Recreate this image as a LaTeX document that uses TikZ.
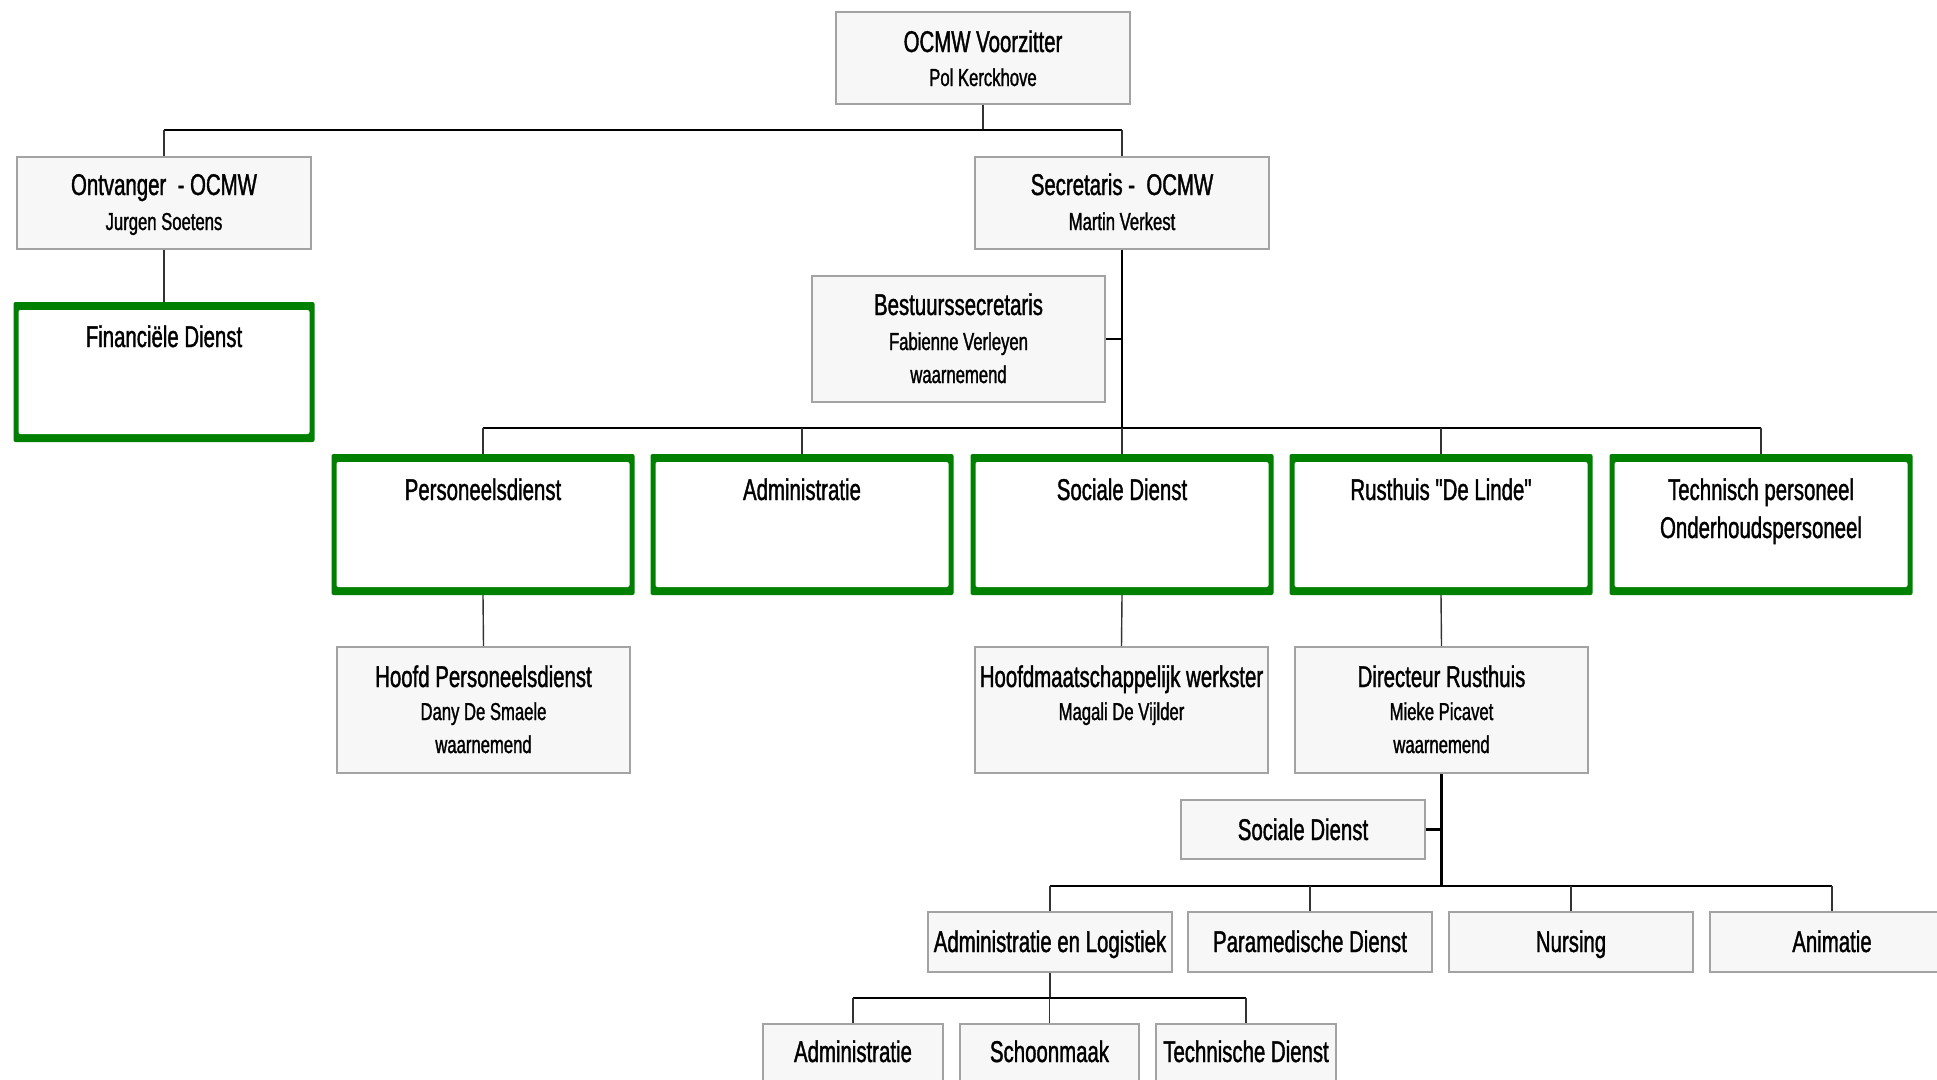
\documentclass[tikz,border=0pt]{standalone}
\usepackage{fontspec}
\newfontfamily\nf{Liberation Sans}[FakeStretch=0.68, FakeBold=1.2]
\definecolor{gboxc}{HTML}{008000}
\definecolor{boxline}{HTML}{A3A3A3}
\definecolor{boxfill}{HTML}{F7F7F7}
\definecolor{stubc}{HTML}{333333}
\tikzset{
  greybox/.style={draw=boxline, fill=boxfill, line width=2pt, rectangle, inner sep=0pt},
  greenbox/.style={fill=gboxc, draw=none, rectangle, inner sep=0pt, rounded corners=2pt,
    path picture={\fill[white] ([xshift=5pt,yshift=-8pt]path picture bounding box.north west) rectangle ([xshift=-5pt,yshift=8pt]path picture bounding box.south east);}},
  big/.style={anchor=base, inner sep=0pt, font=\nf\fontsize{30}{30}\selectfont},
  small/.style={anchor=base, inner sep=0pt, font=\nf\fontsize{24.5}{24.5}\selectfont},
  bus/.style={draw=black, line width=2.2pt},
  stub/.style={draw=stubc, line width=1.4pt},
}
\begin{document}
\begin{tikzpicture}[x=1pt,y=-1pt]
\clip (0,0) rectangle (1937,1079);
\fill[white] (0,0) rectangle (1937,1079);

% ---- boxes
\node[greybox, minimum width=294pt, minimum height=92pt] (vz) at (983,58) {};
\node[greybox, minimum width=294pt, minimum height=92pt] (ov) at (164,203) {};
\node[greybox, minimum width=294pt, minimum height=92pt] (sc) at (1122,203) {};
\node[greybox, minimum width=293pt, minimum height=126pt] (bs) at (958.5,339) {};
\node[greenbox, minimum width=301pt, minimum height=140pt] (fd) at (164,372) {};

\node[greenbox, minimum width=303pt, minimum height=141pt] (pd) at (483,524.5) {};
\node[greenbox, minimum width=303pt, minimum height=141pt] (ad) at (802,524.5) {};
\node[greenbox, minimum width=303pt, minimum height=141pt] (sd) at (1122,524.5) {};
\node[greenbox, minimum width=303pt, minimum height=141pt] (rh) at (1441,524.5) {};
\node[greenbox, minimum width=303pt, minimum height=141pt] (tp) at (1761,524.5) {};

\node[greybox, minimum width=293pt, minimum height=126pt] (hp) at (483.5,710) {};
\node[greybox, minimum width=293pt, minimum height=126pt] (hm) at (1121.5,710) {};
\node[greybox, minimum width=293pt, minimum height=126pt] (dr) at (1441.5,710) {};

\node[greybox, minimum width=244pt, minimum height=59pt] (sd2) at (1303,829.5) {};

\node[greybox, minimum width=244pt, minimum height=60pt] (al) at (1050,942) {};
\node[greybox, minimum width=244pt, minimum height=60pt] (pm) at (1310,942) {};
\node[greybox, minimum width=244pt, minimum height=60pt] (nu) at (1571,942) {};
\node[greybox, minimum width=244pt, minimum height=60pt] (an) at (1832,942) {};

\node[greybox, minimum width=180pt, minimum height=60pt] (ba) at (853,1054) {};
\node[greybox, minimum width=179pt, minimum height=60pt] (bsch) at (1049.5,1054) {};
\node[greybox, minimum width=180pt, minimum height=60pt] (btd) at (1246,1054) {};

% ---- texts
\node[big] (vz1) at (983,52) {OCMW Voorzitter};
\node[small] (vz2) at (983,86) {Pol Kerckhove};
\node[big] (ov1) at (164,195) {Ontvanger\ \ - OCMW};
\node[small] (ov2) at (164,230) {Jurgen Soetens};
\node[big] (sc1) at (1122,195) {Secretaris -\ \ OCMW};
\node[small] (sc2) at (1122,230) {Martin Verkest};
\node[big] (bs1) at (958.5,315) {Bestuurssecretaris};
\node[small] (bs2) at (958.5,350) {Fabienne Verleyen};
\node[small] (bs3) at (958.5,383) {waarnemend};
\node[big] (fd1) at (164,347) {Financiële Dienst};

\node[big] (pd1) at (483,500) {Personeelsdienst};
\node[big] (ad1) at (802,500) {Administratie};
\node[big] (sd1) at (1122,500) {Sociale Dienst};
\node[big] (rh1) at (1441,500) {Rusthuis "De Linde"};
\node[big] (tp1) at (1761,500) {Technisch personeel};
\node[big] (tp2) at (1761,538) {Onderhoudspersoneel};

\node[big] (hp1) at (483.5,687) {Hoofd Personeelsdienst};
\node[small] (hp2) at (483.5,720) {Dany De Smaele};
\node[small] (hp3) at (483.5,753) {waarnemend};
\node[big] (hm1) at (1121.5,687) {Hoofdmaatschappelijk werkster};
\node[small] (hm2) at (1121.5,720) {Magali De Vijlder};
\node[big] (dr1) at (1441.5,687) {Directeur Rusthuis};
\node[small] (dr2) at (1441.5,720) {Mieke Picavet};
\node[small] (dr3) at (1441.5,753) {waarnemend};

\node[big] (sd21) at (1303,840) {Sociale Dienst};
\node[big] (al1) at (1050,952) {Administratie en Logistiek};
\node[big] (pm1) at (1310,952) {Paramedische Dienst};
\node[big] (nu1) at (1571,952) {Nursing};
\node[big] (an1) at (1832,952) {Animatie};
\node[big] (ba1) at (853,1062) {Administratie};
\node[big] (bsch1) at (1049.5,1062) {Schoonmaak};
\node[big] (btd1) at (1246,1062) {Technische Dienst};

% ---- connectors
\coordinate (j1) at (983,130);
\draw[stub] (vz.south) -- (j1);
\draw[bus] (ov.north |- j1) -- (sc.north |- j1);
\draw[stub] (ov.north |- j1) -- (ov.north);
\draw[stub] (sc.north |- j1) -- (sc.north);
\draw[stub] (ov.south) -- (fd.north);

\coordinate (j2) at (1122,428);
\draw[bus] (sc.south) -- (j2);
\draw[bus] (bs.east) -- (bs.east -| sc.south);
\draw[bus] (pd.north |- j2) -- (tp.north |- j2);
\foreach \n in {pd,ad,sd,rh,tp} \draw[stub] (\n.north |- j2) -- (\n.north);

\draw[stub] (pd.south) -- (hp.north);
\draw[stub] (sd.south) -- (hm.north);
\draw[stub] (rh.south) -- (dr.north);

\coordinate (j3) at (1441.5,886);
\draw[bus] (dr.south) -- (j3);
\draw[bus] (sd2.east) -- (sd2.east -| dr.south);
\draw[bus] (al.north |- j3) -- (an.north |- j3);
\foreach \n in {al,pm,nu,an} \draw[stub] (\n.north |- j3) -- (\n.north);

\coordinate (j4) at (1050,998);
\draw[stub] (al.south) -- (j4);
\draw[bus] (ba.north |- j4) -- (btd.north |- j4);
\foreach \n in {ba,bsch,btd} \draw[stub] (\n.north |- j4) -- (\n.north);
\end{tikzpicture}
\end{document}
